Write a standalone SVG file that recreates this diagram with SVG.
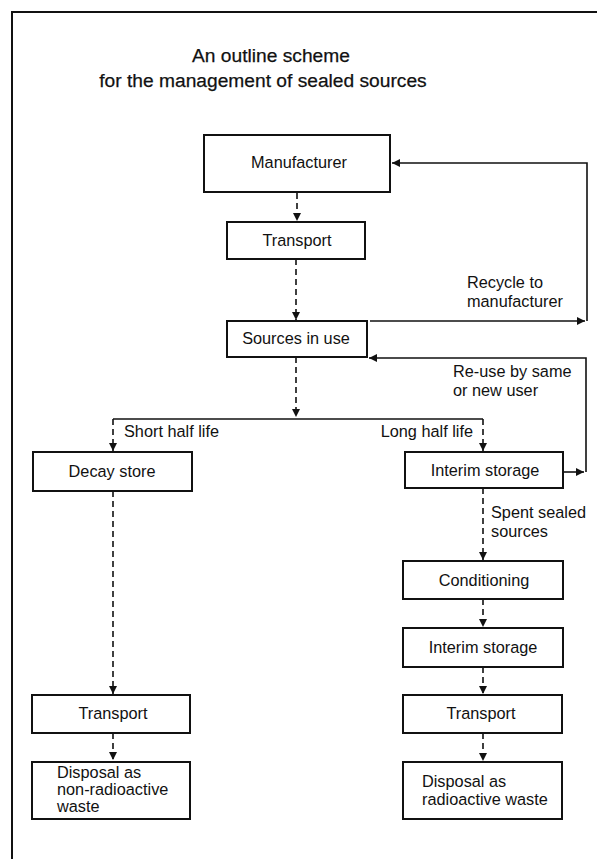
<svg xmlns="http://www.w3.org/2000/svg" width="597" height="859" viewBox="0 0 597 859">
<style>
text{font-family:"Liberation Sans",Arial,sans-serif;fill:#111;}
.t{font-size:19.2px;text-anchor:middle;stroke:#111;stroke-width:0.25;}
.n{font-size:16.3px;text-anchor:middle;}
.l{font-size:16.3px;}
.box{fill:#fff;stroke:#111;stroke-width:2;}
.c{fill:none;stroke:#111;stroke-width:1.6;}
.d{fill:none;stroke:#111;stroke-width:1.6;stroke-dasharray:6 4;}
.frame{fill:none;stroke:#111;stroke-width:2;}
</style>
<defs>
<marker id="ah" markerUnits="userSpaceOnUse" markerWidth="9" markerHeight="9" refX="8" refY="4" orient="auto">
<path d="M0,0 L8,4 L0,8 z" fill="#111"/>
</marker>
</defs>
<rect width="597" height="859" fill="#fff"/>
<path class="frame" d="M12 859 V12 H597"/>
<g id="title">
<text class="t" x="271" y="62">An outline scheme</text>
<text class="t" x="263" y="87">for the management of sealed sources</text>
</g>
<g id="connectors">
<path class="d" d="M297 193 V221" marker-end="url(#ah)"/>
<path class="d" d="M296 259 V320" marker-end="url(#ah)"/>
<path class="d" d="M296 357 V417" marker-end="url(#ah)"/>
<path class="c" d="M113 419 H483"/>
<path class="d" d="M113 419 V451" marker-end="url(#ah)"/>
<path class="d" d="M483 419 V451" marker-end="url(#ah)"/>
<path class="c" d="M370 321 H585" marker-end="url(#ah)"/>
<path class="c" d="M587 321 V163 H392" marker-end="url(#ah)"/>
<path class="c" d="M564 472 H584" marker-end="url(#ah)"/>
<path class="c" d="M586 472 V358 H369" marker-end="url(#ah)"/>
<path class="d" d="M113 491 V694" marker-end="url(#ah)"/>
<path class="d" d="M113 733 V760" marker-end="url(#ah)"/>
<path class="d" d="M483 488 V560" marker-end="url(#ah)"/>
<path class="d" d="M483 599 V627" marker-end="url(#ah)"/>
<path class="d" d="M483 667 V694" marker-end="url(#ah)"/>
<path class="d" d="M483 733 V761" marker-end="url(#ah)"/>
<text class="l" x="467" y="288">Recycle to</text>
<text class="l" x="467" y="307">manufacturer</text>
<text class="l" x="453" y="377">Re-use by same</text>
<text class="l" x="453" y="396">or new user</text>
<text class="l" x="124" y="437">Short half life</text>
<text class="l" x="473" y="437" text-anchor="end">Long half life</text>
<text class="l" x="491" y="518">Spent sealed</text>
<text class="l" x="491" y="537">sources</text>
</g>
<g id="manufacturer"><rect class="box" x="204" y="135" width="186" height="57"/><text class="n" x="299" y="168">Manufacturer</text></g>
<g id="transport1"><rect class="box" x="227" y="222" width="138" height="37"/><text class="n" x="297" y="246">Transport</text></g>
<g id="sources"><rect class="box" x="227" y="321" width="140" height="36"/><text class="n" x="296" y="344">Sources in use</text></g>
<g id="decay"><rect class="box" x="33" y="452" width="159" height="39"/><text class="n" x="112" y="477">Decay store</text></g>
<g id="interim1"><rect class="box" x="405" y="452" width="158" height="36"/><text class="n" x="485" y="476">Interim storage</text></g>
<g id="conditioning"><rect class="box" x="403" y="561" width="160" height="38"/><text class="n" x="484" y="586">Conditioning</text></g>
<g id="interim2"><rect class="box" x="403" y="628" width="160" height="39"/><text class="n" x="483" y="653">Interim storage</text></g>
<g id="transport2"><rect class="box" x="32" y="695" width="158" height="38"/><text class="n" x="113" y="719">Transport</text></g>
<g id="transport3"><rect class="box" x="403" y="695" width="159" height="38"/><text class="n" x="481" y="719">Transport</text></g>
<g id="disposal1"><rect class="box" x="32" y="762" width="158" height="57"/><text class="l" x="57" y="778">Disposal as</text><text class="l" x="57" y="795">non-radioactive</text><text class="l" x="57" y="812">waste</text></g>
<g id="disposal2"><rect class="box" x="403" y="762" width="159" height="57"/><text class="l" x="422" y="787">Disposal as</text><text class="l" x="422" y="805">radioactive waste</text></g>
</svg>
